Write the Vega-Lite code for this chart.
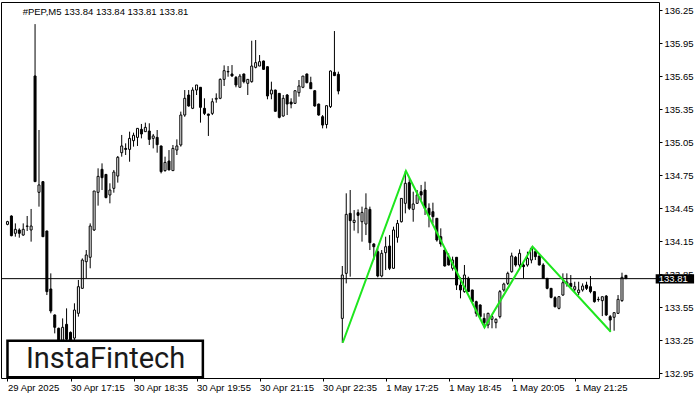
{
  "$schema": "https://vega.github.io/schema/vega-lite/v6.json",
  "width": 658,
  "height": 376,
  "autosize": {"type": "none"},
  "padding": {"left": 1, "top": 2, "right": 41, "bottom": 22},
  "background": "white",
  "config": {
    "view": {"stroke": "black", "strokeWidth": 1},
    "axis": {"labelFont": "Liberation Sans", "labelFontSize": 9.5, "labelColor": "black", "tickColor": "black", "grid": false, "domain": false, "labelOverlap": false}
  },
  "datasets": {
    "candles": [
      {"i":0,"o":134.303,"h":134.335,"l":134.295,"c":134.328},
      {"i":1,"o":134.379,"h":134.385,"l":134.195,"c":134.200},
      {"i":2,"o":134.222,"h":134.312,"l":134.191,"c":134.258},
      {"i":3,"o":134.252,"h":134.267,"l":134.182,"c":134.222},
      {"i":4,"o":134.206,"h":134.312,"l":134.200,"c":134.258},
      {"i":5,"o":134.285,"h":134.379,"l":134.243,"c":134.288},
      {"i":6,"o":134.252,"h":134.443,"l":134.146,"c":134.288},
      {"i":7,"o":135.651,"h":136.122,"l":134.690,"c":134.691},
      {"i":8,"o":134.594,"h":135.160,"l":134.464,"c":134.661},
      {"i":9,"o":134.691,"h":134.695,"l":134.190,"c":134.191},
      {"i":10,"o":134.243,"h":134.245,"l":133.661,"c":133.692},
      {"i":11,"o":133.716,"h":133.858,"l":133.495,"c":133.516},
      {"i":12,"o":133.480,"h":133.485,"l":133.313,"c":133.368},
      {"i":13,"o":133.359,"h":133.365,"l":133.170,"c":133.220},
      {"i":14,"o":133.250,"h":133.449,"l":133.200,"c":133.368},
      {"i":15,"o":133.395,"h":133.540,"l":133.220,"c":133.260},
      {"i":16,"o":133.322,"h":133.330,"l":133.200,"c":133.250},
      {"i":17,"o":133.270,"h":133.586,"l":133.240,"c":133.525},
      {"i":18,"o":133.495,"h":133.798,"l":133.465,"c":133.737},
      {"i":19,"o":133.722,"h":133.994,"l":133.720,"c":133.979},
      {"i":20,"o":133.964,"h":134.070,"l":133.813,"c":134.025},
      {"i":21,"o":134.004,"h":134.312,"l":133.904,"c":134.288},
      {"i":22,"o":134.252,"h":134.606,"l":134.243,"c":134.606},
      {"i":23,"o":134.594,"h":134.812,"l":134.473,"c":134.739},
      {"i":24,"o":134.803,"h":134.857,"l":134.615,"c":134.727},
      {"i":25,"o":134.757,"h":134.760,"l":134.540,"c":134.546},
      {"i":26,"o":134.570,"h":134.676,"l":134.494,"c":134.615},
      {"i":27,"o":134.630,"h":134.797,"l":134.591,"c":134.778},
      {"i":28,"o":134.742,"h":134.924,"l":134.682,"c":134.912},
      {"i":29,"o":134.954,"h":135.115,"l":134.918,"c":135.015},
      {"i":30,"o":134.993,"h":135.039,"l":134.933,"c":134.984},
      {"i":31,"o":134.984,"h":135.145,"l":134.872,"c":135.084},
      {"i":32,"o":135.063,"h":135.136,"l":135.009,"c":135.112},
      {"i":33,"o":135.093,"h":135.175,"l":135.015,"c":135.175},
      {"i":34,"o":135.166,"h":135.215,"l":135.084,"c":135.124},
      {"i":35,"o":135.145,"h":135.227,"l":135.145,"c":135.184},
      {"i":36,"o":135.151,"h":135.221,"l":135.024,"c":135.075},
      {"i":37,"o":135.084,"h":135.124,"l":134.993,"c":135.106},
      {"i":38,"o":135.093,"h":135.160,"l":134.954,"c":135.027},
      {"i":39,"o":135.015,"h":135.018,"l":134.766,"c":134.782},
      {"i":40,"o":134.791,"h":134.918,"l":134.782,"c":134.866},
      {"i":41,"o":134.878,"h":134.978,"l":134.797,"c":134.797},
      {"i":42,"o":134.791,"h":135.024,"l":134.791,"c":134.993},
      {"i":43,"o":134.978,"h":135.075,"l":134.933,"c":135.015},
      {"i":44,"o":135.024,"h":135.327,"l":135.009,"c":135.296},
      {"i":45,"o":135.296,"h":135.523,"l":135.280,"c":135.448},
      {"i":46,"o":135.478,"h":135.523,"l":135.372,"c":135.378},
      {"i":47,"o":135.357,"h":135.548,"l":135.350,"c":135.523},
      {"i":48,"o":135.523,"h":135.569,"l":135.478,"c":135.569},
      {"i":49,"o":135.548,"h":135.550,"l":135.227,"c":135.366},
      {"i":50,"o":135.357,"h":135.448,"l":135.296,"c":135.311},
      {"i":51,"o":135.305,"h":135.308,"l":135.106,"c":135.293},
      {"i":52,"o":135.311,"h":135.448,"l":135.296,"c":135.417},
      {"i":53,"o":135.440,"h":135.493,"l":135.408,"c":135.448},
      {"i":54,"o":135.448,"h":135.629,"l":135.440,"c":135.620},
      {"i":55,"o":135.620,"h":135.747,"l":135.560,"c":135.699},
      {"i":56,"o":135.688,"h":135.741,"l":135.644,"c":135.692},
      {"i":57,"o":135.669,"h":135.750,"l":135.644,"c":135.651},
      {"i":58,"o":135.638,"h":135.650,"l":135.548,"c":135.569},
      {"i":59,"o":135.548,"h":135.669,"l":135.548,"c":135.650},
      {"i":60,"o":135.669,"h":135.672,"l":135.584,"c":135.599},
      {"i":61,"o":135.584,"h":135.620,"l":135.478,"c":135.620},
      {"i":62,"o":135.599,"h":135.971,"l":135.590,"c":135.741},
      {"i":63,"o":135.729,"h":135.977,"l":135.720,"c":135.772},
      {"i":64,"o":135.741,"h":135.841,"l":135.741,"c":135.781},
      {"i":65,"o":135.787,"h":135.790,"l":135.705,"c":135.711},
      {"i":66,"o":135.735,"h":135.738,"l":135.439,"c":135.469},
      {"i":67,"o":135.487,"h":135.599,"l":135.439,"c":135.523},
      {"i":68,"o":135.523,"h":135.526,"l":135.327,"c":135.330},
      {"i":69,"o":135.493,"h":135.496,"l":135.266,"c":135.275},
      {"i":70,"o":135.287,"h":135.478,"l":135.281,"c":135.448},
      {"i":71,"o":135.478,"h":135.487,"l":135.296,"c":135.396},
      {"i":72,"o":135.414,"h":135.448,"l":135.357,"c":135.396},
      {"i":73,"o":135.402,"h":135.517,"l":135.400,"c":135.517},
      {"i":74,"o":135.499,"h":135.614,"l":135.463,"c":135.560},
      {"i":75,"o":135.548,"h":135.650,"l":135.540,"c":135.650},
      {"i":76,"o":135.669,"h":135.672,"l":135.584,"c":135.590},
      {"i":77,"o":135.590,"h":135.644,"l":135.535,"c":135.535},
      {"i":78,"o":135.517,"h":135.520,"l":135.372,"c":135.378},
      {"i":79,"o":135.396,"h":135.399,"l":135.290,"c":135.296},
      {"i":80,"o":135.281,"h":135.296,"l":135.175,"c":135.205},
      {"i":81,"o":135.210,"h":135.381,"l":135.175,"c":135.381},
      {"i":82,"o":135.372,"h":135.700,"l":135.360,"c":135.696},
      {"i":83,"o":135.684,"h":136.059,"l":135.650,"c":135.654},
      {"i":84,"o":135.666,"h":135.690,"l":135.484,"c":135.514},
      {"i":85,"o":133.449,"h":133.925,"l":133.228,"c":133.843},
      {"i":86,"o":133.858,"h":134.585,"l":133.767,"c":134.394},
      {"i":87,"o":134.403,"h":134.615,"l":133.828,"c":134.337},
      {"i":88,"o":134.320,"h":134.433,"l":134.246,"c":134.340},
      {"i":89,"o":134.409,"h":134.439,"l":134.222,"c":134.385},
      {"i":90,"o":134.327,"h":134.464,"l":134.146,"c":134.412},
      {"i":91,"o":134.306,"h":134.585,"l":134.206,"c":134.449},
      {"i":92,"o":134.439,"h":134.464,"l":134.070,"c":134.137},
      {"i":93,"o":134.125,"h":134.131,"l":133.979,"c":134.100},
      {"i":94,"o":134.055,"h":134.100,"l":133.822,"c":133.834},
      {"i":95,"o":133.834,"h":134.070,"l":133.822,"c":134.040},
      {"i":96,"o":134.046,"h":134.191,"l":133.888,"c":134.100},
      {"i":97,"o":134.106,"h":134.206,"l":133.888,"c":133.904},
      {"i":98,"o":133.904,"h":134.282,"l":133.900,"c":134.252},
      {"i":99,"o":134.185,"h":134.343,"l":134.137,"c":134.312},
      {"i":100,"o":134.327,"h":134.539,"l":134.320,"c":134.539},
      {"i":101,"o":134.494,"h":134.788,"l":134.403,"c":134.676},
      {"i":102,"o":134.682,"h":134.721,"l":134.433,"c":134.449},
      {"i":103,"o":134.439,"h":134.600,"l":134.327,"c":134.488},
      {"i":104,"o":134.494,"h":134.615,"l":134.490,"c":134.570},
      {"i":105,"o":134.600,"h":134.661,"l":134.524,"c":134.570},
      {"i":106,"o":134.615,"h":134.691,"l":134.388,"c":134.449},
      {"i":107,"o":134.449,"h":134.494,"l":134.276,"c":134.388},
      {"i":108,"o":134.418,"h":134.500,"l":134.312,"c":134.373},
      {"i":109,"o":134.358,"h":134.360,"l":134.146,"c":134.161},
      {"i":110,"o":134.191,"h":134.267,"l":134.100,"c":134.125},
      {"i":111,"o":134.070,"h":134.072,"l":133.920,"c":133.925},
      {"i":112,"o":134.010,"h":134.040,"l":133.930,"c":133.934},
      {"i":113,"o":133.904,"h":134.010,"l":133.883,"c":133.979},
      {"i":114,"o":134.004,"h":134.006,"l":133.707,"c":133.752},
      {"i":115,"o":133.752,"h":133.822,"l":133.631,"c":133.707},
      {"i":116,"o":133.692,"h":133.934,"l":133.682,"c":133.843},
      {"i":117,"o":133.813,"h":133.828,"l":133.690,"c":133.692},
      {"i":118,"o":133.707,"h":133.709,"l":133.592,"c":133.601},
      {"i":119,"o":133.601,"h":133.610,"l":133.465,"c":133.495},
      {"i":120,"o":133.571,"h":133.575,"l":133.449,"c":133.465},
      {"i":121,"o":133.449,"h":133.495,"l":133.368,"c":133.410},
      {"i":122,"o":133.389,"h":133.500,"l":133.359,"c":133.495},
      {"i":123,"o":133.441,"h":133.480,"l":133.359,"c":133.465},
      {"i":124,"o":133.410,"h":133.449,"l":133.359,"c":133.441},
      {"i":125,"o":133.465,"h":133.707,"l":133.449,"c":133.692},
      {"i":126,"o":133.707,"h":133.773,"l":133.692,"c":133.761},
      {"i":127,"o":133.767,"h":133.873,"l":133.752,"c":133.858},
      {"i":128,"o":133.873,"h":134.046,"l":133.864,"c":134.016},
      {"i":129,"o":134.004,"h":134.016,"l":133.919,"c":133.934},
      {"i":130,"o":133.934,"h":134.076,"l":133.888,"c":134.040},
      {"i":131,"o":133.934,"h":133.950,"l":133.813,"c":133.919},
      {"i":132,"o":133.934,"h":134.055,"l":133.919,"c":133.994},
      {"i":133,"o":133.979,"h":134.100,"l":133.949,"c":134.085},
      {"i":134,"o":134.055,"h":134.070,"l":133.979,"c":134.010},
      {"i":135,"o":134.016,"h":134.018,"l":133.930,"c":133.934},
      {"i":136,"o":133.934,"h":133.950,"l":133.810,"c":133.813},
      {"i":137,"o":133.813,"h":133.815,"l":133.713,"c":133.722},
      {"i":138,"o":133.722,"h":133.724,"l":133.631,"c":133.640},
      {"i":139,"o":133.637,"h":133.650,"l":133.549,"c":133.555},
      {"i":140,"o":133.540,"h":133.650,"l":133.531,"c":133.646},
      {"i":141,"o":133.661,"h":133.858,"l":133.655,"c":133.773},
      {"i":142,"o":133.761,"h":133.858,"l":133.737,"c":133.779},
      {"i":143,"o":133.767,"h":133.843,"l":133.730,"c":133.737},
      {"i":144,"o":133.713,"h":133.782,"l":133.692,"c":133.737},
      {"i":145,"o":133.683,"h":133.782,"l":133.661,"c":133.707},
      {"i":146,"o":133.707,"h":133.767,"l":133.692,"c":133.743},
      {"i":147,"o":133.752,"h":133.782,"l":133.707,"c":133.722},
      {"i":148,"o":133.737,"h":133.834,"l":133.677,"c":133.692},
      {"i":149,"o":133.692,"h":133.694,"l":133.592,"c":133.601},
      {"i":150,"o":133.622,"h":133.646,"l":133.601,"c":133.620},
      {"i":151,"o":133.610,"h":133.646,"l":133.470,"c":133.646},
      {"i":152,"o":133.652,"h":133.661,"l":133.471,"c":133.480},
      {"i":153,"o":133.465,"h":133.480,"l":133.328,"c":133.434},
      {"i":154,"o":133.459,"h":133.501,"l":133.337,"c":133.501},
      {"i":155,"o":133.495,"h":133.661,"l":133.490,"c":133.622},
      {"i":156,"o":133.610,"h":133.864,"l":133.600,"c":133.822},
      {"i":157,"o":133.840,"h":133.840,"l":133.810,"c":133.810}
    ],
    "zigzag": [
      {"i":85.1,"p":133.228},
      {"i":101.15,"p":134.788},
      {"i":121.1,"p":133.368},
      {"i":133.3,"p":134.100},
      {"i":153.15,"p":133.328}
    ],
    "one": [{"k": 1}]
  },
  "layer": [
    {
      "data": {"name": "candles"},
      "mark": {"type": "rule", "color": "black", "strokeWidth": 1},
      "encoding": {
        "x": {
          "field": "i", "type": "quantitative",
          "scale": {"domain": [-0.375, 164.125], "nice": false, "zero": false},
          "axis": {
            "orient": "bottom", "title": null,
            "values": [0, 16, 32, 48, 64, 80, 96, 112, 128, 144],
            "tickCount": 40,
            "labelExpr": "['29 Apr 2025','30 Apr 17:15','30 Apr 18:35','30 Apr 19:55','30 Apr 21:15','30 Apr 22:35','1 May 17:25','1 May 18:45','1 May 20:05','1 May 21:25'][round(datum.value/16)]",
            "tickSize": 3, "labelAlign": "left", "labelBaseline": "top", "labelPadding": 1,
            "labelOverlap": false, "labelFlush": false, "labelBound": false
          }
        },
        "y": {
          "field": "l", "type": "quantitative",
          "scale": {"domain": [132.9076, 136.3227], "nice": false, "zero": false},
          "axis": {
            "orient": "right", "title": null,
            "values": [132.95, 133.25, 133.55, 133.85, 134.15, 134.45, 134.75, 135.05, 135.35, 135.65, 135.95, 136.25],
            "tickCount": 40,
            "format": ".2f", "tickSize": 3, "labelPadding": 2, "labelOverlap": false, "labelBaseline": "middle"
          }
        },
        "y2": {"field": "h"}
      }
    },
    {
      "data": {"name": "candles"},
      "mark": {"type": "bar", "size": 2, "stroke": "black", "strokeWidth": 1},
      "encoding": {
        "x": {"field": "i", "type": "quantitative", "title": null},
        "y": {"field": "o", "type": "quantitative", "title": null},
        "y2": {"field": "c"},
        "fill": {"condition": {"test": "datum.c >= datum.o", "value": "white"}, "value": "black"}
      }
    },
    {
      "data": {"name": "one"},
      "mark": {"type": "rule", "color": "black", "strokeWidth": 1},
      "encoding": {"y": {"datum": 133.81, "type": "quantitative"}}
    },
    {
      "data": {"name": "zigzag"},
      "mark": {"type": "line", "color": "#1ee61e", "strokeWidth": 2},
      "encoding": {
        "x": {"field": "i", "type": "quantitative", "title": null},
        "y": {"field": "p", "type": "quantitative", "title": null}
      }
    },
    {
      "data": {"name": "one"},
      "mark": {"type": "rect", "fill": "white", "stroke": "black", "strokeWidth": 2.5},
      "encoding": {
        "x": {"datum": 0, "type": "quantitative"},
        "x2": {"datum": 49.6},
        "y": {"datum": 133.246, "type": "quantitative"},
        "y2": {"datum": 132.915}
      }
    },
    {
      "data": {"name": "one"},
      "mark": {"type": "text", "text": "InstaFintech", "font": "Roboto", "fontSize": 29, "color": "#1a1a1a", "align": "center", "baseline": "alphabetic"},
      "encoding": {
        "x": {"datum": 24.9, "type": "quantitative"},
        "y": {"datum": 132.995, "type": "quantitative"}
      }
    },
    {
      "data": {"name": "one"},
      "mark": {"type": "text", "text": "#PEP,M5  133.84 133.84 133.81 133.81", "font": "Liberation Sans", "fontSize": 9.5, "color": "black", "align": "left", "baseline": "middle"},
      "encoding": {
        "x": {"datum": 3.85, "type": "quantitative"},
        "y": {"datum": 136.236, "type": "quantitative"}
      }
    },
    {
      "data": {"name": "one"},
      "mark": {"type": "rect", "fill": "black", "clip": false},
      "encoding": {
        "x": {"datum": 164.55, "type": "quantitative"},
        "x2": {"datum": 174.3},
        "y": {"datum": 133.851, "type": "quantitative"},
        "y2": {"datum": 133.766}
      }
    },
    {
      "data": {"name": "one"},
      "mark": {"type": "text", "text": "133.81", "font": "Liberation Sans", "fontSize": 9.5, "color": "white", "align": "left", "baseline": "middle", "dx": 3},
      "encoding": {
        "x": {"datum": 164.55, "type": "quantitative"},
        "y": {"datum": 133.81, "type": "quantitative"}
      }
    }
  ]
}
